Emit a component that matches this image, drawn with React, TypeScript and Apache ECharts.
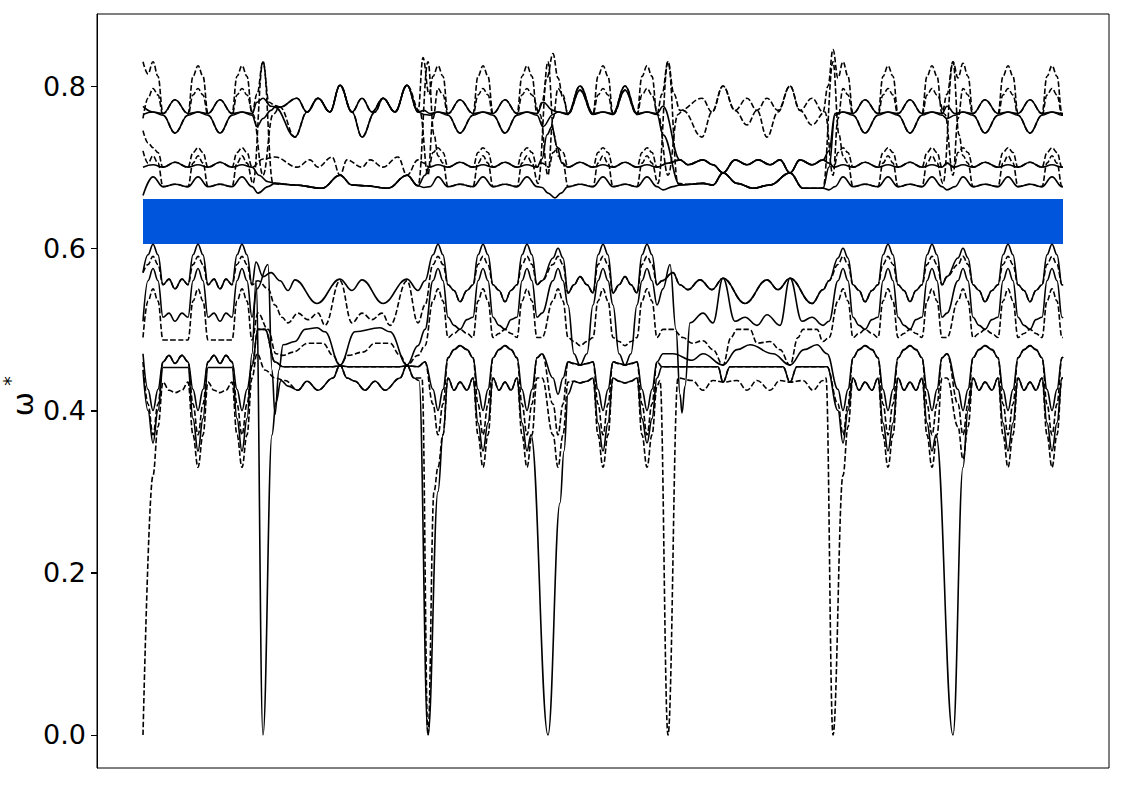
import { useEffect, useRef } from "react";
import * as echarts from "echarts";

// k runs along the wave-vector path (no tick labels on it), omega* is the reduced frequency.
const kRange = [-46, 966];
const wRange = [-0.0407, 0.8888];
const yTicks = [0, 0.2, 0.4, 0.6, 0.8];

// band gap (blue)
const gapK = [0, 920];
const gapW = [0.6052, 0.6607];

// lower group, solid
const SL1 = [
  0, 0.57, 5, 0.592, 10, 0.605, 15, 0.592, 20, 0.555, 26, 0.562, 32, 0.55, 39, 0.562, 45, 0.555, 50, 0.592, 55, 0.605, 60, 0.592, 65, 0.555, 71, 0.562, 77, 0.55, 83, 0.562, 89, 0.555, 94, 0.592, 99, 0.605, 104, 0.592, 109, 0.555, 113, 0.583, 120, 0.565, 128, 0.57, 137, 0.56,
  145, 0.548, 152, 0.561, 174, 0.532, 197, 0.562, 209, 0.548, 219, 0.561, 240, 0.532, 264, 0.562, 275, 0.548, 282, 0.56,
  290, 0.592, 295, 0.605, 300, 0.592, 305, 0.555, 311, 0.548, 317, 0.534, 324, 0.548, 330, 0.555, 335, 0.592, 340, 0.605, 345, 0.592, 350, 0.555, 356, 0.548, 362, 0.534, 368, 0.548, 374, 0.555, 379, 0.592, 384, 0.605, 389, 0.592, 394, 0.555, 399, 0.56,
  410, 0.588, 415, 0.6, 420, 0.588, 425, 0.545, 431, 0.555, 437, 0.565, 444, 0.555, 450, 0.545, 455, 0.592, 460, 0.605, 465, 0.592, 470, 0.545, 476, 0.555, 482, 0.565, 488, 0.555, 494, 0.545, 499, 0.592, 504, 0.605, 509, 0.592, 514, 0.555, 519, 0.56,
  530, 0.57, 537, 0.555, 545, 0.549, 557, 0.561, 569, 0.549, 580, 0.563, 602, 0.532, 624, 0.561, 635, 0.549, 647, 0.563, 669, 0.532, 680, 0.549, 686, 0.56,
  695, 0.588, 700, 0.6, 705, 0.588, 710, 0.555, 716, 0.548, 722, 0.534, 729, 0.548, 735, 0.555, 740, 0.592, 745, 0.605, 750, 0.592, 755, 0.555, 761, 0.548, 767, 0.534, 773, 0.548, 779, 0.555, 784, 0.592, 789, 0.605, 794, 0.592, 799, 0.555, 804, 0.565,
  815, 0.588, 820, 0.6, 825, 0.588, 830, 0.555, 836, 0.548, 842, 0.534, 849, 0.548, 855, 0.555, 860, 0.592, 865, 0.605, 870, 0.592, 875, 0.555, 881, 0.548, 887, 0.534, 893, 0.548, 899, 0.555, 904, 0.592, 909, 0.605, 914, 0.592, 919, 0.555, 920, 0.554,
];
const SL2 = [
  0, 0.51, 5, 0.56, 10, 0.575, 15, 0.56, 20, 0.515, 26, 0.52, 32, 0.51, 39, 0.52, 45, 0.515, 50, 0.56, 55, 0.575, 60, 0.56, 65, 0.515, 71, 0.52, 77, 0.51, 83, 0.52, 89, 0.515, 94, 0.56, 99, 0.575, 104, 0.56, 109, 0.515, 114, 0.55, 125, 0.58, 129, 0.45, 132, 0.395, 136, 0.45, 140, 0.481,
  152, 0.485, 162, 0.5, 174, 0.502, 182, 0.497, 197, 0.456, 212, 0.497, 237, 0.502, 247, 0.497, 264, 0.456, 275, 0.48, 282, 0.5,
  290, 0.56, 295, 0.575, 300, 0.56, 305, 0.515, 311, 0.505, 317, 0.5, 324, 0.512, 330, 0.515, 335, 0.56, 340, 0.575, 345, 0.56, 350, 0.515, 356, 0.505, 362, 0.5, 368, 0.512, 374, 0.515, 379, 0.56, 384, 0.575, 389, 0.56, 394, 0.515, 399, 0.52,
  410, 0.56, 415, 0.575, 420, 0.56, 425, 0.53, 431, 0.47, 437, 0.456, 444, 0.47, 450, 0.53, 455, 0.56, 460, 0.575, 465, 0.56, 470, 0.53, 476, 0.47, 482, 0.456, 488, 0.47, 494, 0.53, 499, 0.56, 504, 0.575, 509, 0.56, 514, 0.53, 520, 0.55, 527, 0.58, 533, 0.5, 537, 0.42, 539, 0.397, 542, 0.43, 547, 0.508,
  560, 0.52, 570, 0.508, 580, 0.563, 592, 0.51, 602, 0.515, 614, 0.505, 624, 0.518, 637, 0.505, 647, 0.563, 659, 0.51, 669, 0.515, 680, 0.505, 686, 0.51,
  695, 0.56, 700, 0.575, 705, 0.56, 710, 0.515, 716, 0.505, 722, 0.5, 729, 0.512, 735, 0.515, 740, 0.56, 745, 0.575, 750, 0.56, 755, 0.515, 761, 0.505, 767, 0.5, 773, 0.512, 779, 0.515, 784, 0.56, 789, 0.575, 794, 0.56, 799, 0.515, 804, 0.52,
  815, 0.56, 820, 0.575, 825, 0.56, 830, 0.515, 836, 0.505, 842, 0.5, 849, 0.512, 855, 0.515, 860, 0.56, 865, 0.575, 870, 0.56, 875, 0.515, 881, 0.505, 887, 0.5, 893, 0.512, 899, 0.515, 904, 0.56, 909, 0.575, 914, 0.56, 919, 0.515, 920, 0.514,
];
const SL3 = [
  0, 0.47, 5, 0.426, 10, 0.4, 15, 0.426, 20, 0.46, 26, 0.468, 32, 0.458, 39, 0.468, 45, 0.46, 50, 0.426, 55, 0.4, 60, 0.426, 65, 0.46, 71, 0.468, 77, 0.458, 83, 0.468, 89, 0.46, 94, 0.426, 99, 0.4, 104, 0.426, 109, 0.455, 115, 0.5, 122, 0.5, 132, 0.46, 140, 0.454,
  190, 0.454, 197, 0.455, 205, 0.454, 257, 0.454, 264, 0.455, 275, 0.454, 282, 0.46,
  290, 0.426, 295, 0.4, 300, 0.426, 305, 0.465, 311, 0.475, 317, 0.48, 324, 0.475, 330, 0.465, 335, 0.426, 340, 0.4, 345, 0.426, 350, 0.465, 356, 0.475, 362, 0.48, 368, 0.475, 374, 0.465, 379, 0.426, 384, 0.4, 389, 0.426, 394, 0.465, 399, 0.47,
  410, 0.44, 415, 0.42, 420, 0.44, 425, 0.46, 431, 0.458, 437, 0.456, 444, 0.458, 450, 0.46, 455, 0.426, 460, 0.4, 465, 0.426, 470, 0.46, 476, 0.458, 482, 0.456, 488, 0.458, 494, 0.46, 499, 0.426, 504, 0.4, 509, 0.426, 514, 0.46, 520, 0.47,
  530, 0.47, 549, 0.462, 560, 0.47, 580, 0.456, 594, 0.475, 607, 0.481, 630, 0.47, 647, 0.456, 661, 0.475, 674, 0.481, 684, 0.47,
  695, 0.426, 700, 0.4, 705, 0.426, 710, 0.465, 716, 0.475, 722, 0.48, 729, 0.475, 735, 0.465, 740, 0.426, 745, 0.4, 750, 0.426, 755, 0.465, 761, 0.475, 767, 0.48, 773, 0.475, 779, 0.465, 784, 0.426, 789, 0.4, 794, 0.426, 799, 0.465, 804, 0.47,
  815, 0.426, 820, 0.4, 825, 0.426, 830, 0.465, 836, 0.475, 842, 0.48, 849, 0.475, 855, 0.465, 860, 0.426, 865, 0.4, 870, 0.426, 875, 0.465, 881, 0.475, 887, 0.48, 893, 0.475, 899, 0.465, 904, 0.426, 909, 0.4, 914, 0.426, 919, 0.465, 920, 0.466,
];
const SL4 = [
  0, 0.45, 5, 0.4, 10, 0.36, 15, 0.4, 20, 0.453, 32, 0.453, 45, 0.453, 50, 0.39, 55, 0.35, 60, 0.39, 65, 0.453, 77, 0.453, 89, 0.453, 94, 0.39, 99, 0.35, 104, 0.39, 109, 0.47, 113, 0.56, 120, 0, 129, 0.37, 133, 0.41, 138, 0.437,
  145, 0.43, 155, 0.425, 164, 0.436, 175, 0.425, 190, 0.44, 197, 0.456, 204, 0.44, 212, 0.436, 222, 0.425, 232, 0.436, 242, 0.425, 257, 0.44, 264, 0.456, 271, 0.44, 276, 0.437, 285, 0,
  295, 0.3, 300, 0.37, 305, 0.44, 311, 0.425, 317, 0.435, 324, 0.425, 330, 0.44, 335, 0.385, 340, 0.35, 345, 0.385, 350, 0.44, 356, 0.425, 362, 0.435, 368, 0.425, 374, 0.44, 379, 0.385, 384, 0.35, 388, 0.37, 405, 0,
  417, 0.286, 421, 0.35, 425, 0.42, 431, 0.436, 437, 0.434, 444, 0.436, 450, 0.44, 455, 0.385, 460, 0.35, 465, 0.385, 470, 0.44, 476, 0.436, 482, 0.434, 488, 0.436, 494, 0.44, 499, 0.39, 504, 0.36, 509, 0.39, 514, 0.44, 519, 0.454,
  549, 0.454, 575, 0.454, 580, 0.435, 587, 0.454, 640, 0.454, 647, 0.435, 654, 0.454, 684, 0.454,
  695, 0.4, 700, 0.36, 705, 0.4, 710, 0.44, 716, 0.425, 722, 0.435, 729, 0.425, 735, 0.44, 740, 0.385, 745, 0.35, 750, 0.385, 755, 0.44, 761, 0.425, 767, 0.435, 773, 0.425, 779, 0.44, 784, 0.385, 789, 0.35, 793, 0.37, 810, 0,
  820, 0.33, 825, 0.4, 830, 0.44, 836, 0.425, 842, 0.435, 849, 0.425, 855, 0.44, 860, 0.385, 865, 0.35, 870, 0.385, 875, 0.44, 881, 0.425, 887, 0.435, 893, 0.425, 899, 0.44, 904, 0.385, 909, 0.35, 914, 0.385, 919, 0.44, 920, 0.44,
];

// lower group, dashed
const DL1 = [
  0, 0.57, 5, 0.58, 10, 0.59, 15, 0.58, 20, 0.555, 26, 0.562, 32, 0.55, 39, 0.562, 45, 0.555, 50, 0.58, 55, 0.59, 60, 0.58, 65, 0.555, 71, 0.562, 77, 0.55, 83, 0.562, 89, 0.555, 94, 0.58, 99, 0.59, 104, 0.58, 109, 0.555, 115, 0.56, 125, 0.55, 132, 0.53, 139, 0.515,
  145, 0.508, 155, 0.52, 165, 0.512, 175, 0.52, 182, 0.505, 197, 0.56, 209, 0.508, 219, 0.52, 229, 0.512, 239, 0.52, 247, 0.505, 264, 0.56, 275, 0.508, 282, 0.53,
  290, 0.58, 295, 0.59, 300, 0.58, 305, 0.555, 311, 0.548, 317, 0.534, 324, 0.548, 330, 0.555, 335, 0.58, 340, 0.59, 345, 0.58, 350, 0.555, 356, 0.548, 362, 0.534, 368, 0.548, 374, 0.555, 379, 0.58, 384, 0.59, 389, 0.58, 394, 0.555, 399, 0.56,
  410, 0.58, 415, 0.59, 420, 0.58, 425, 0.545, 431, 0.555, 437, 0.565, 444, 0.555, 450, 0.545, 455, 0.58, 460, 0.59, 465, 0.58, 470, 0.545, 476, 0.555, 482, 0.565, 488, 0.555, 494, 0.545, 499, 0.58, 504, 0.59, 509, 0.58, 514, 0.555, 519, 0.56,
  530, 0.57, 537, 0.555, 545, 0.549, 557, 0.561, 569, 0.549, 580, 0.563, 602, 0.532, 624, 0.561, 635, 0.549, 647, 0.563, 669, 0.532, 680, 0.549, 686, 0.56,
  695, 0.58, 700, 0.59, 705, 0.58, 710, 0.555, 716, 0.548, 722, 0.534, 729, 0.548, 735, 0.555, 740, 0.58, 745, 0.59, 750, 0.58, 755, 0.555, 761, 0.548, 767, 0.534, 773, 0.548, 779, 0.555, 784, 0.58, 789, 0.59, 794, 0.58, 799, 0.555, 804, 0.565,
  815, 0.58, 820, 0.59, 825, 0.58, 830, 0.555, 836, 0.548, 842, 0.534, 849, 0.548, 855, 0.555, 860, 0.58, 865, 0.59, 870, 0.58, 875, 0.555, 881, 0.548, 887, 0.534, 893, 0.548, 899, 0.555, 904, 0.58, 909, 0.59, 914, 0.58, 919, 0.555, 920, 0.554,
];
const DL2 = [
  0, 0.49, 5, 0.535, 10, 0.55, 15, 0.535, 20, 0.487, 32, 0.487, 45, 0.487, 50, 0.535, 55, 0.55, 60, 0.535, 65, 0.487, 77, 0.487, 89, 0.487, 94, 0.535, 99, 0.55, 104, 0.535, 109, 0.487, 115, 0.52, 125, 0.5, 133, 0.47, 140, 0.468,
  150, 0.472, 165, 0.483, 180, 0.483, 190, 0.468, 197, 0.456, 205, 0.468, 220, 0.472, 232, 0.483, 247, 0.483, 257, 0.468, 264, 0.456, 275, 0.468, 282, 0.48,
  290, 0.535, 295, 0.55, 300, 0.535, 305, 0.49, 311, 0.495, 317, 0.5, 324, 0.495, 330, 0.49, 335, 0.535, 340, 0.55, 345, 0.535, 350, 0.49, 356, 0.495, 362, 0.5, 368, 0.495, 374, 0.49, 379, 0.535, 384, 0.55, 389, 0.535, 394, 0.49, 399, 0.49,
  410, 0.535, 415, 0.55, 420, 0.535, 425, 0.49, 431, 0.485, 437, 0.48, 444, 0.485, 450, 0.49, 455, 0.535, 460, 0.55, 465, 0.535, 470, 0.49, 476, 0.485, 482, 0.48, 488, 0.485, 494, 0.49, 499, 0.535, 504, 0.55, 509, 0.535, 514, 0.49, 520, 0.5, 530, 0.5, 540, 0.49, 549, 0.483,
  560, 0.486, 570, 0.475, 580, 0.456, 588, 0.49, 594, 0.5, 607, 0.5, 614, 0.483, 627, 0.485, 637, 0.475, 647, 0.456, 655, 0.49, 660, 0.5, 674, 0.5, 680, 0.485, 686, 0.49,
  695, 0.535, 700, 0.55, 705, 0.535, 710, 0.49, 716, 0.495, 722, 0.5, 729, 0.495, 735, 0.49, 740, 0.535, 745, 0.55, 750, 0.535, 755, 0.49, 761, 0.495, 767, 0.5, 773, 0.495, 779, 0.49, 784, 0.535, 789, 0.55, 794, 0.535, 799, 0.49, 804, 0.49,
  815, 0.535, 820, 0.55, 825, 0.535, 830, 0.49, 836, 0.495, 842, 0.5, 849, 0.495, 855, 0.49, 860, 0.535, 865, 0.55, 870, 0.535, 875, 0.49, 881, 0.495, 887, 0.5, 893, 0.495, 899, 0.49, 904, 0.535, 909, 0.55, 914, 0.535, 919, 0.49, 920, 0.49,
];
const DL3 = [
  0, 0.46, 5, 0.408, 10, 0.37, 15, 0.408, 20, 0.46, 26, 0.468, 32, 0.458, 39, 0.468, 45, 0.46, 50, 0.408, 55, 0.37, 60, 0.408, 65, 0.46, 71, 0.468, 77, 0.458, 83, 0.468, 89, 0.46, 94, 0.408, 99, 0.37, 104, 0.408, 109, 0.455, 115, 0.5, 122, 0.5, 132, 0.46, 140, 0.454,
  190, 0.454, 197, 0.455, 205, 0.454, 257, 0.454, 264, 0.455, 275, 0.454, 282, 0.46,
  290, 0.408, 295, 0.37, 300, 0.408, 305, 0.465, 311, 0.475, 317, 0.48, 324, 0.475, 330, 0.465, 335, 0.408, 340, 0.37, 345, 0.408, 350, 0.465, 356, 0.475, 362, 0.48, 368, 0.475, 374, 0.465, 379, 0.408, 384, 0.37, 389, 0.408, 394, 0.465, 399, 0.47,
  410, 0.408, 415, 0.37, 420, 0.408, 425, 0.46, 431, 0.458, 437, 0.456, 444, 0.458, 450, 0.46, 455, 0.408, 460, 0.37, 465, 0.408, 470, 0.46, 476, 0.458, 482, 0.456, 488, 0.458, 494, 0.46, 499, 0.408, 504, 0.37, 509, 0.408, 514, 0.46, 519, 0.454,
  549, 0.454, 575, 0.454, 580, 0.435, 587, 0.454, 640, 0.454, 647, 0.435, 654, 0.454, 684, 0.454,
  695, 0.408, 700, 0.37, 705, 0.408, 710, 0.465, 716, 0.475, 722, 0.48, 729, 0.475, 735, 0.465, 740, 0.408, 745, 0.37, 750, 0.408, 755, 0.465, 761, 0.475, 767, 0.48, 773, 0.475, 779, 0.465, 784, 0.408, 789, 0.37, 794, 0.408, 799, 0.465, 804, 0.47,
  815, 0.408, 820, 0.37, 825, 0.408, 830, 0.465, 836, 0.475, 842, 0.48, 849, 0.475, 855, 0.465, 860, 0.408, 865, 0.37, 870, 0.408, 875, 0.465, 881, 0.475, 887, 0.48, 893, 0.475, 899, 0.465, 904, 0.408, 909, 0.37, 914, 0.408, 919, 0.465, 920, 0.466,
];
const DL4 = [
  0, 0, 10, 0.32, 15, 0.38, 20, 0.435, 26, 0.425, 32, 0.422, 39, 0.425, 45, 0.435, 50, 0.37, 55, 0.33, 60, 0.37, 65, 0.435, 71, 0.425, 77, 0.422, 83, 0.425, 89, 0.435, 94, 0.37, 99, 0.33, 104, 0.37, 109, 0.44, 114, 0.47, 122, 0.45, 132, 0.44, 142, 0.437,
  155, 0.425, 164, 0.436, 175, 0.425, 190, 0.44, 197, 0.456, 204, 0.44, 212, 0.436, 222, 0.425, 232, 0.436, 242, 0.425, 257, 0.44, 264, 0.456, 271, 0.44, 279, 0.44, 285, 0,
  291, 0.3, 295, 0.33, 300, 0.37, 305, 0.44, 311, 0.425, 317, 0.435, 324, 0.425, 330, 0.44, 335, 0.37, 340, 0.33, 345, 0.37, 350, 0.44, 356, 0.425, 362, 0.435, 368, 0.425, 374, 0.44, 379, 0.37, 384, 0.33, 389, 0.37, 394, 0.44, 399, 0.44,
  410, 0.37, 415, 0.33, 420, 0.37, 425, 0.435, 431, 0.436, 437, 0.434, 444, 0.436, 450, 0.44, 455, 0.37, 460, 0.33, 465, 0.37, 470, 0.44, 476, 0.436, 482, 0.434, 488, 0.436, 494, 0.44, 499, 0.37, 504, 0.33, 509, 0.37, 514, 0.43, 517, 0.437, 525, 0, 535, 0.44, 549, 0.437,
  560, 0.425, 570, 0.437, 580, 0.435, 594, 0.437, 604, 0.425, 614, 0.437, 627, 0.425, 637, 0.437, 647, 0.435, 660, 0.437, 670, 0.425, 680, 0.437, 683, 0.44, 690, 0,
  700, 0.32, 705, 0.38, 710, 0.44, 716, 0.425, 722, 0.435, 729, 0.425, 735, 0.44, 740, 0.37, 745, 0.33, 750, 0.37, 755, 0.44, 761, 0.425, 767, 0.435, 773, 0.425, 779, 0.44, 784, 0.37, 789, 0.33, 794, 0.37, 799, 0.44, 804, 0.44,
  815, 0.38, 820, 0.34, 825, 0.38, 830, 0.44, 836, 0.425, 842, 0.435, 849, 0.425, 855, 0.44, 860, 0.37, 865, 0.33, 870, 0.37, 875, 0.44, 881, 0.425, 887, 0.435, 893, 0.425, 899, 0.44, 904, 0.37, 909, 0.33, 914, 0.37, 919, 0.44, 920, 0.44,
];

// upper group, solid
const SU1 = [
  0, 0.775, 10, 0.768, 20, 0.766, 32, 0.783, 45, 0.766, 55, 0.768, 65, 0.766, 77, 0.783, 89, 0.766, 99, 0.768, 109, 0.766, 114, 0.78, 120, 0.785, 128, 0.775, 137, 0.774,
  154, 0.785, 164, 0.768, 175, 0.785, 187, 0.768, 197, 0.801, 209, 0.768, 219, 0.785, 229, 0.768, 240, 0.785, 252, 0.768, 264, 0.801, 275, 0.768, 281, 0.77,
  287, 0.766, 295, 0.768, 305, 0.766, 317, 0.783, 330, 0.766, 340, 0.768, 350, 0.766, 362, 0.783, 374, 0.766, 384, 0.768, 394, 0.766, 400, 0.78,
  410, 0.77, 415, 0.768, 425, 0.766, 437, 0.8, 450, 0.766, 460, 0.768, 470, 0.766, 482, 0.8, 494, 0.766, 504, 0.768, 514, 0.766, 520, 0.775,
  537, 0.709, 545, 0.703, 560, 0.709, 570, 0.703, 580, 0.693, 592, 0.709, 604, 0.703, 615, 0.709, 627, 0.703, 637, 0.709, 647, 0.693, 657, 0.709, 669, 0.703, 680, 0.709, 686, 0.72,
  692, 0.766, 700, 0.768, 710, 0.766, 722, 0.783, 735, 0.766, 745, 0.768, 755, 0.766, 767, 0.783, 779, 0.766, 789, 0.768, 799, 0.766, 804, 0.775,
  812, 0.766, 820, 0.768, 830, 0.766, 842, 0.783, 855, 0.766, 865, 0.768, 875, 0.766, 887, 0.783, 899, 0.766, 909, 0.768, 919, 0.766, 920, 0.766,
];
const SU2 = [
  0, 0.765, 10, 0.768, 20, 0.764, 32, 0.742, 45, 0.764, 55, 0.768, 65, 0.764, 77, 0.742, 89, 0.764, 99, 0.768, 109, 0.764, 114, 0.75, 120, 0.76, 128, 0.77, 132, 0.774,
  152, 0.737, 164, 0.768, 175, 0.785, 187, 0.768, 197, 0.801, 209, 0.768, 219, 0.737, 232, 0.768, 240, 0.785, 252, 0.768, 264, 0.801, 275, 0.768, 281, 0.765,
  287, 0.764, 295, 0.768, 305, 0.764, 317, 0.742, 330, 0.764, 340, 0.768, 350, 0.764, 362, 0.742, 374, 0.764, 384, 0.768, 394, 0.764, 400, 0.75,
  410, 0.765, 415, 0.768, 425, 0.765, 437, 0.795, 450, 0.765, 460, 0.768, 470, 0.765, 482, 0.795, 494, 0.765, 504, 0.768, 514, 0.765, 520, 0.74,
  537, 0.678, 560, 0.68, 570, 0.678, 580, 0.693, 594, 0.68, 610, 0.674, 627, 0.678, 647, 0.693, 660, 0.674, 680, 0.674, 686, 0.7,
  692, 0.764, 700, 0.768, 710, 0.764, 722, 0.742, 735, 0.764, 745, 0.768, 755, 0.764, 767, 0.742, 779, 0.764, 789, 0.768, 799, 0.764, 804, 0.76,
  812, 0.764, 820, 0.768, 830, 0.764, 842, 0.742, 855, 0.764, 865, 0.768, 875, 0.764, 887, 0.742, 899, 0.764, 909, 0.768, 919, 0.764, 920, 0.764,
];
const SU3 = [
  0, 0.7, 10, 0.703, 20, 0.7, 32, 0.706, 45, 0.7, 55, 0.703, 65, 0.7, 77, 0.706, 89, 0.7, 99, 0.703, 109, 0.7, 116, 0.69, 125, 0.682, 132, 0.68,
  152, 0.678, 179, 0.674, 197, 0.69, 209, 0.678, 222, 0.677, 245, 0.674, 264, 0.69, 275, 0.677, 282, 0.69,
  286, 0.7, 295, 0.703, 305, 0.7, 317, 0.706, 330, 0.7, 340, 0.703, 350, 0.7, 362, 0.706, 374, 0.7, 384, 0.703, 394, 0.7, 399, 0.71, 404, 0.74, 409, 0.75, 414, 0.725, 419, 0.705,
  425, 0.7, 437, 0.706, 450, 0.7, 460, 0.703, 470, 0.7, 482, 0.706, 494, 0.7, 504, 0.703, 514, 0.7, 525, 0.705, 537, 0.709,
  545, 0.703, 560, 0.709, 570, 0.703, 580, 0.693, 592, 0.709, 604, 0.703, 615, 0.709, 627, 0.703, 637, 0.709, 647, 0.693, 657, 0.709, 669, 0.703, 680, 0.709, 686, 0.705,
  691, 0.7, 700, 0.703, 710, 0.7, 722, 0.706, 735, 0.7, 745, 0.703, 755, 0.7, 767, 0.706, 779, 0.7, 789, 0.703, 799, 0.7, 804, 0.705,
  811, 0.7, 820, 0.703, 830, 0.7, 842, 0.706, 855, 0.7, 865, 0.703, 875, 0.7, 887, 0.706, 899, 0.7, 909, 0.703, 919, 0.7, 920, 0.7,
];
const SU4 = [
  0, 0.665, 10, 0.688, 20, 0.676, 32, 0.679, 45, 0.676, 55, 0.688, 65, 0.676, 77, 0.679, 89, 0.676, 99, 0.688, 109, 0.676, 115, 0.668, 125, 0.676, 132, 0.68,
  152, 0.678, 179, 0.674, 197, 0.69, 209, 0.678, 222, 0.677, 245, 0.674, 264, 0.69, 275, 0.677, 281, 0.675,
  287, 0.676, 295, 0.688, 305, 0.676, 317, 0.679, 330, 0.676, 340, 0.688, 350, 0.676, 362, 0.679, 374, 0.676, 384, 0.688, 394, 0.676, 399, 0.675, 405, 0.668, 412, 0.662, 418, 0.668, 425, 0.676,
  437, 0.679, 450, 0.676, 460, 0.688, 470, 0.676, 482, 0.679, 494, 0.676, 504, 0.688, 514, 0.676, 520, 0.672, 530, 0.676, 537, 0.678,
  560, 0.68, 570, 0.678, 580, 0.693, 594, 0.68, 610, 0.674, 627, 0.678, 647, 0.693, 660, 0.674, 680, 0.674, 686, 0.672,
  692, 0.676, 700, 0.688, 710, 0.676, 722, 0.679, 735, 0.676, 745, 0.688, 755, 0.676, 767, 0.679, 779, 0.676, 789, 0.688, 799, 0.676, 804, 0.672,
  812, 0.676, 820, 0.688, 830, 0.676, 842, 0.679, 855, 0.676, 865, 0.688, 875, 0.676, 887, 0.679, 899, 0.676, 909, 0.688, 919, 0.676, 920, 0.676,
];

// upper group, dashed
const DU1 = [
  0, 0.83, 5, 0.815, 10, 0.83, 15, 0.812, 20, 0.766, 32, 0.783, 45, 0.766, 50, 0.812, 55, 0.825, 60, 0.812, 65, 0.766, 77, 0.783, 89, 0.766, 94, 0.812, 99, 0.825, 104, 0.812, 109, 0.766, 114, 0.79, 120, 0.83, 126, 0.78, 132, 0.776, 137, 0.774,
  154, 0.785, 164, 0.768, 175, 0.785, 187, 0.768, 197, 0.801, 209, 0.768, 219, 0.785, 229, 0.768, 240, 0.785, 252, 0.768, 264, 0.801, 275, 0.768, 280, 0.835, 286, 0.79,
  290, 0.812, 295, 0.825, 300, 0.812, 305, 0.766, 317, 0.783, 330, 0.766, 335, 0.812, 340, 0.825, 345, 0.812, 350, 0.766, 362, 0.783, 374, 0.766, 379, 0.812, 384, 0.825, 389, 0.812, 394, 0.766, 399, 0.78, 404, 0.81, 410, 0.84, 415, 0.81, 420, 0.785, 425, 0.766,
  437, 0.8, 450, 0.766, 455, 0.812, 460, 0.825, 465, 0.812, 470, 0.766, 482, 0.8, 494, 0.766, 499, 0.812, 504, 0.825, 509, 0.812, 514, 0.766, 519, 0.79, 525, 0.83, 531, 0.79, 537, 0.77,
  559, 0.785, 569, 0.768, 580, 0.8, 592, 0.77, 604, 0.785, 614, 0.77, 624, 0.785, 635, 0.77, 647, 0.8, 657, 0.77, 669, 0.785, 680, 0.768, 685, 0.8, 690, 0.845, 695, 0.81,
  700, 0.83, 705, 0.812, 710, 0.766, 722, 0.783, 735, 0.766, 740, 0.812, 745, 0.825, 750, 0.812, 755, 0.766, 767, 0.783, 779, 0.766, 784, 0.812, 789, 0.825, 794, 0.812, 799, 0.766, 804, 0.79, 810, 0.83, 815, 0.81,
  820, 0.828, 825, 0.812, 830, 0.766, 842, 0.783, 855, 0.766, 860, 0.812, 865, 0.825, 870, 0.812, 875, 0.766, 887, 0.783, 899, 0.766, 904, 0.812, 909, 0.825, 914, 0.812, 919, 0.766, 920, 0.766,
];
const DU2 = [
  0, 0.76, 5, 0.785, 10, 0.797, 15, 0.789, 20, 0.764, 32, 0.742, 45, 0.764, 50, 0.789, 55, 0.797, 60, 0.789, 65, 0.764, 77, 0.742, 89, 0.764, 94, 0.789, 99, 0.797, 104, 0.789, 110, 0.765, 120, 0.69, 130, 0.765, 137, 0.774,
  152, 0.737, 164, 0.768, 175, 0.785, 187, 0.768, 197, 0.801, 209, 0.768, 219, 0.737, 232, 0.768, 240, 0.785, 252, 0.768, 264, 0.801, 277, 0.768,
  285, 0.69, 290, 0.76, 295, 0.797, 300, 0.789, 305, 0.764, 317, 0.742, 330, 0.764, 335, 0.789, 340, 0.797, 345, 0.789, 350, 0.764, 362, 0.742, 374, 0.764, 379, 0.789, 384, 0.797, 389, 0.789, 397, 0.765,
  405, 0.69, 410, 0.76, 415, 0.797, 420, 0.789, 425, 0.765, 437, 0.795, 450, 0.765, 455, 0.789, 460, 0.797, 465, 0.789, 470, 0.765, 482, 0.795, 494, 0.765, 499, 0.789, 504, 0.797, 509, 0.789, 515, 0.765, 525, 0.69, 535, 0.765, 540, 0.77,
  559, 0.737, 569, 0.768, 580, 0.8, 592, 0.77, 604, 0.752, 614, 0.77, 624, 0.737, 635, 0.768, 647, 0.8, 657, 0.77, 669, 0.752, 682, 0.768,
  690, 0.69, 695, 0.76, 700, 0.797, 705, 0.789, 710, 0.764, 722, 0.742, 735, 0.764, 740, 0.789, 745, 0.797, 750, 0.789, 755, 0.764, 767, 0.742, 779, 0.764, 784, 0.789, 789, 0.797, 794, 0.789, 802, 0.765,
  810, 0.69, 815, 0.76, 820, 0.797, 825, 0.789, 830, 0.764, 842, 0.742, 855, 0.764, 860, 0.789, 865, 0.797, 870, 0.789, 875, 0.764, 887, 0.742, 899, 0.764, 904, 0.789, 909, 0.797, 914, 0.789, 919, 0.764, 920, 0.764,
];
const DU3 = [
  0, 0.745, 5, 0.73, 10, 0.724, 15, 0.718, 20, 0.7, 32, 0.706, 45, 0.7, 50, 0.718, 55, 0.724, 60, 0.718, 65, 0.7, 77, 0.706, 89, 0.7, 94, 0.718, 99, 0.724, 104, 0.718, 109, 0.7, 120, 0.71, 132, 0.7125,
  154, 0.7, 167, 0.709, 175, 0.7, 189, 0.7125, 197, 0.69, 204, 0.709, 219, 0.7, 227, 0.709, 240, 0.7, 255, 0.7125, 264, 0.69, 275, 0.709, 281, 0.705,
  286, 0.7, 290, 0.718, 295, 0.724, 300, 0.718, 305, 0.7, 317, 0.706, 330, 0.7, 335, 0.718, 340, 0.724, 345, 0.718, 350, 0.7, 362, 0.706, 374, 0.7, 379, 0.718, 384, 0.724, 389, 0.718, 394, 0.7, 399, 0.705,
  406, 0.7, 410, 0.718, 415, 0.724, 420, 0.718, 425, 0.7, 437, 0.706, 450, 0.7, 455, 0.718, 460, 0.724, 465, 0.718, 470, 0.7, 482, 0.706, 494, 0.7, 499, 0.718, 504, 0.724, 509, 0.718, 514, 0.7, 525, 0.705, 537, 0.709,
  545, 0.703, 560, 0.709, 570, 0.703, 580, 0.693, 592, 0.709, 604, 0.703, 615, 0.709, 627, 0.703, 637, 0.709, 647, 0.693, 657, 0.709, 669, 0.703, 680, 0.709, 686, 0.705,
  691, 0.7, 695, 0.718, 700, 0.724, 705, 0.718, 710, 0.7, 722, 0.706, 735, 0.7, 740, 0.718, 745, 0.724, 750, 0.718, 755, 0.7, 767, 0.706, 779, 0.7, 784, 0.718, 789, 0.724, 794, 0.718, 799, 0.7, 804, 0.705,
  811, 0.7, 815, 0.718, 820, 0.724, 825, 0.718, 830, 0.7, 842, 0.706, 855, 0.7, 860, 0.718, 865, 0.724, 870, 0.718, 875, 0.7, 887, 0.706, 899, 0.7, 904, 0.718, 909, 0.724, 914, 0.718, 919, 0.7, 920, 0.7,
];
const DU4 = [
  0, 0.72, 5, 0.705, 10, 0.714, 15, 0.705, 20, 0.676, 32, 0.679, 45, 0.676, 50, 0.705, 55, 0.714, 60, 0.705, 65, 0.676, 77, 0.679, 89, 0.676, 94, 0.705, 99, 0.714, 104, 0.705, 110, 0.68, 120, 0.83, 130, 0.68, 137, 0.679,
  152, 0.678, 179, 0.674, 197, 0.69, 209, 0.678, 222, 0.677, 245, 0.674, 264, 0.69, 275, 0.677,
  285, 0.83, 291, 0.74, 295, 0.714, 300, 0.705, 305, 0.676, 317, 0.679, 330, 0.676, 335, 0.705, 340, 0.714, 345, 0.705, 350, 0.676, 362, 0.679, 374, 0.676, 379, 0.705, 384, 0.714, 389, 0.705, 395, 0.68,
  405, 0.83, 411, 0.74, 415, 0.714, 420, 0.705, 425, 0.676, 437, 0.679, 450, 0.676, 455, 0.705, 460, 0.714, 465, 0.705, 470, 0.676, 482, 0.679, 494, 0.676, 499, 0.705, 504, 0.714, 509, 0.705, 515, 0.68, 525, 0.83, 535, 0.68, 545, 0.679,
  560, 0.68, 570, 0.678, 580, 0.693, 594, 0.68, 610, 0.674, 627, 0.678, 647, 0.693, 660, 0.674, 680, 0.674,
  690, 0.83, 696, 0.74, 700, 0.714, 705, 0.705, 710, 0.676, 722, 0.679, 735, 0.676, 740, 0.705, 745, 0.714, 750, 0.705, 755, 0.676, 767, 0.679, 779, 0.676, 784, 0.705, 789, 0.714, 794, 0.705, 800, 0.68,
  810, 0.83, 816, 0.74, 820, 0.714, 825, 0.705, 830, 0.676, 842, 0.679, 855, 0.676, 860, 0.705, 865, 0.714, 870, 0.705, 875, 0.676, 887, 0.679, 899, 0.676, 904, 0.705, 909, 0.714, 914, 0.705, 919, 0.676, 920, 0.676,
];

const solidBands = [SL1, SL2, SL3, SL4, SU1, SU2, SU3, SU4];
const dashedBands = [DL1, DL2, DL3, DL4, DU1, DU2, DU3, DU4];

function toPairs(flat: number[]) {
  const out: number[][] = [];
  for (let i = 0; i < flat.length; i += 2) out.push([flat[i], flat[i + 1]]);
  return out;
}

export default function App() {
  const chartRef = useRef<HTMLDivElement>(null);

  useEffect(() => {
    document.body.style.margin = "0";
    if (!chartRef.current) return;
    const chart = echarts.init(chartRef.current, null, { renderer: "svg" });

    const bandSeries = (band: number[], dashed: boolean, i: number) => ({
      type: "line",
      data: toPairs(band),
      showSymbol: false,
      symbol: "none",
      smooth: 0.4,
      smoothMonotone: "x",
      silent: true,
      z: 3,
      lineStyle: { color: "#000", width: 1.6, type: dashed ? [5.5, 2.4] : "solid" },
      markArea:
        i === 0 && !dashed
          ? {
              silent: true,
              itemStyle: { color: "#0055dd", opacity: 1 },
              data: [[{ coord: [gapK[0], gapW[0]] }, { coord: [gapK[1], gapW[1]] }]],
            }
          : undefined,
    });

    chart.setOption({
      animation: false,
      grid: {
        left: 97,
        top: 14,
        width: 1012,
        height: 754,
        show: true,
        borderColor: "#000",
        borderWidth: 1,
        backgroundColor: "transparent",
      },
      xAxis: {
        type: "value",
        min: kRange[0],
        max: kRange[1],
        axisLine: { show: false },
        axisTick: { show: false },
        axisLabel: { show: false },
        splitLine: { show: false },
      },
      yAxis: {
        type: "value",
        min: wRange[0],
        max: wRange[1],
        axisLine: { show: true, onZero: false, lineStyle: { color: "#000", width: 1 } },
        axisTick: {
          show: true,
          customValues: yTicks,
          length: 6,
          lineStyle: { color: "#000", width: 1 },
        },
        axisLabel: {
          customValues: yTicks,
          formatter: (v: number) => v.toFixed(1),
          fontSize: 27,
          color: "#000",
          fontFamily: "DejaVu Sans",
          margin: 11,
        },
        splitLine: { show: false },
      },
      graphic: [
        {
          id: "wName",
          type: "text",
          x: 23,
          y: 404,
          rotation: Math.PI / 2,
          style: {
            text: "ω",
            fontSize: 29,
            fontFamily: "DejaVu Sans",
            fill: "#000",
            align: "center",
            verticalAlign: "middle",
          },
        },
        {
          id: "wStar",
          type: "text",
          x: 10,
          y: 381,
          rotation: Math.PI / 2,
          style: {
            text: "*",
            fontSize: 19,
            fontFamily: "DejaVu Sans",
            fill: "#000",
            align: "center",
            verticalAlign: "middle",
          },
        },
      ],
      series: [
        ...solidBands.map((b, i) => bandSeries(b, false, i)),
        ...dashedBands.map((b, i) => bandSeries(b, true, i)),
      ],
    });

    // y tick marks, placed through the axis scales
    const xLeft = chart.convertToPixel({ xAxisIndex: 0 }, kRange[0]) as number;
    chart.setOption({
      graphic: yTicks.map((v, i) => {
        const y = Math.round(chart.convertToPixel({ yAxisIndex: 0 }, v) as number) + 0.5;
        return {
          id: "tick" + i,
          type: "line",
          shape: { x1: xLeft - 6, y1: y, x2: xLeft, y2: y },
          style: { stroke: "#000", lineWidth: 1 },
        };
      }),
    });

    return () => chart.dispose();
  }, []);

  return <div ref={chartRef} style={{ width: 1125, height: 785 }} />;
}
